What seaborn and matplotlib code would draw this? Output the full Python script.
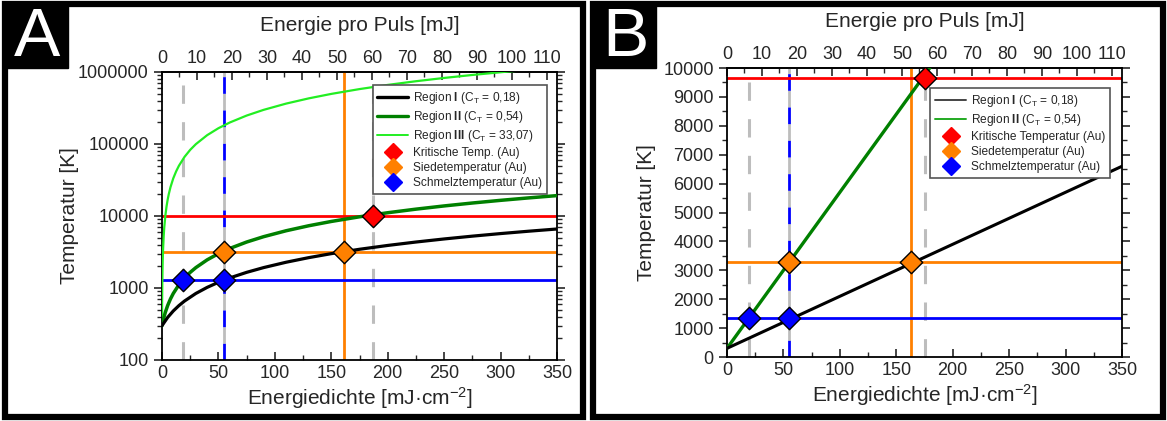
import numpy as np
import pandas as pd
import matplotlib
matplotlib.use("Agg")
import matplotlib.pyplot as plt
import seaborn as sns
from matplotlib.lines import Line2D
from matplotlib.patches import Rectangle
from matplotlib.ticker import MultipleLocator, LogLocator, NullFormatter, FixedLocator

sns.set_style("ticks")
plt.rcParams['font.family'] = ['Liberation Sans', 'DejaVu Sans']
plt.rcParams['mathtext.fontset'] = 'custom'
plt.rcParams['mathtext.rm'] = 'Liberation Sans'
plt.rcParams['mathtext.bf'] = 'Liberation Sans:bold'
plt.rcParams['mathtext.it'] = 'Liberation Sans:italic'

# ---- data ----
E_I = [0, 5, 10, 15, 20, 30, 40, 50, 60, 75, 90, 110, 130, 150, 175, 200, 225, 250, 275, 300, 325, 350]
T_I = [300, 390, 480, 570, 660, 840, 1020, 1200, 1380, 1650, 1920, 2280, 2640, 3000, 3450, 3900,
       4350, 4800, 5250, 5700, 6150, 6600]

E_II = [0, 1, 2, 3, 5, 7.5, 10, 15, 20, 25, 30, 40, 50, 60, 75, 90, 110, 130, 150, 175, 200, 225,
        250, 275, 300, 325, 350]
T_II = [300, 354, 408, 462, 570, 705, 840, 1110, 1380, 1650, 1920, 2460, 3000, 3540, 4350, 5160,
        6240, 7320, 8400, 9750, 11100, 12450, 13800, 15150, 16500, 17850, 19200]

E_III = [0, 0.1, 0.25, 0.5, 0.75, 1, 1.5, 2, 3, 4, 5, 6, 7.5, 10, 12.5, 15, 20, 25, 30, 40, 50, 60,
         75, 90, 110, 130, 150, 175, 200, 225, 250, 275, 300, 325, 350]
T_III = [300, 630, 1130, 1950, 2780, 3610, 5260, 6910, 10200, 13500, 16800, 20100, 25100, 33400,
         41600, 49900, 66400, 83000, 99500, 132600, 165700, 198700, 248300, 297900, 364100, 430200,
         496400, 579000, 661700, 744400, 827000, 909700, 992400, 1075000, 1157800]

# panel A reference levels / markers
A_T_crit, A_T_boil, A_T_melt = 10000, 3200, 1300
A_gray_x = [19, 187]
A_blue_x = 55
A_orange_x = 161
A_melt_pts = ([19, 55], [1300, 1300])
A_boil_pts = ([55, 161], [3200, 3200])
A_crit_pts = ([187], [10000])

# panel B reference levels / markers
B_T_crit, B_T_boil, B_T_melt = 9650, 3280, 1340
B_gray_x = [19.5, 175]
B_blue_x = 55
B_orange_x = 163
B_melt_pts = ([19.5, 55], [1340, 1340])
B_boil_pts = ([55, 163], [3280, 3280])
B_crit_pts = ([175], [9650])

mj_per_density = 1 / 3.1

RED = '#ff0000'
ORANGE = '#ff8000'
BLUE = '#0000ff'
DKGREEN = '#008000'
LTGREEN = '#22ee22'
GRAY = '#bdbdbd'

fig = plt.figure(figsize=(11.67, 4.21), dpi=100)

# panel frames and letter boxes
for (x0, w) in [(5 / 1167, 578 / 1167), (593 / 1167, 570 / 1167)]:
    fig.patches.append(Rectangle((x0, 4 / 421), w, 413 / 421, transform=fig.transFigure,
                                 facecolor='white', edgecolor='black', linewidth=4.5, zorder=-2))
for (x0, letter) in [(5 / 1167, 'A'), (593 / 1167, 'B')]:
    fig.patches.append(Rectangle((x0, 1 - 68 / 421), 63 / 1167, 64 / 421, transform=fig.transFigure,
                                 facecolor='black', edgecolor='black', zorder=-1))
    fig.text(x0 + 32 / 1167, 1 - 38 / 421, letter, color='white', fontsize=50,
             ha='center', va='center', zorder=2)


def style_axis(ax, ylabelpad):
    for s in ax.spines.values():
        s.set_linewidth(1.3)
        s.set_visible(True)
        s.set_color('black')
    ax.set_xlim(0, 350)
    ax.xaxis.set_major_locator(MultipleLocator(50))
    ax.xaxis.set_minor_locator(MultipleLocator(25))
    ax.tick_params(axis='x', which='both', direction='in', top=False, labelsize=13)
    ax.tick_params(axis='x', which='major', length=6, width=1.2)
    ax.tick_params(axis='x', which='minor', length=3.5, width=1.0)
    ax.tick_params(axis='y', which='both', direction='out', right=True, labelsize=13)
    ax.tick_params(axis='y', which='major', length=6, width=1.2)
    ax.tick_params(axis='y', which='minor', length=3.5, width=1.0)
    ax.set_xlabel('Energiedichte [mJ·cm$^{-2}$]', fontsize=15, labelpad=2)
    ax.set_ylabel('Temperatur [K]', fontsize=15, labelpad=ylabelpad)
    sec = ax.secondary_xaxis('top', functions=(lambda x: x * mj_per_density, lambda x: x / mj_per_density))
    sec.set_xticks(np.arange(0, 111, 10))
    sec.xaxis.set_minor_locator(MultipleLocator(5))
    sec.tick_params(which='both', direction='in', labelsize=13)
    sec.tick_params(which='major', length=6, width=1.2)
    sec.tick_params(which='minor', length=3.5, width=1.0)
    sec.spines['top'].set_linewidth(1.3)
    sec.set_xlabel('Energie pro Puls [mJ]', fontsize=15, labelpad=14)
    return sec


def draw_refs(ax, gray_x, blue_x, orange_x, tc, tb, tm):
    for gx in gray_x:
        ax.axvline(gx, color=GRAY, lw=2.2, dashes=(6, 6), zorder=1)
    ax.axvline(blue_x, color=BLUE, lw=2.0, ls='--', dashes=(6, 6), gapcolor=GRAY,
               dash_capstyle='butt', zorder=1.5)
    ax.axvline(orange_x, color=ORANGE, lw=2.0, zorder=1.6)
    ax.axhline(tc, color=RED, lw=2.0, zorder=1.7)
    ax.axhline(tb, color=ORANGE, lw=2.0, zorder=1.7)
    ax.axhline(tm, color=BLUE, lw=2.0, zorder=1.7)


def draw_markers(ax, melt, boil, crit):
    for pts, c in [(melt, BLUE), (boil, ORANGE), (crit, RED)]:
        d = pd.DataFrame({'x': pts[0], 'y': pts[1]})
        sns.scatterplot(data=d, x='x', y='y', ax=ax, marker='D', s=130, color=c,
                        edgecolor='black', linewidth=1.0, zorder=5, legend=False)


# ---------------- Panel A ----------------
axA = fig.add_axes([162 / 1167, 1 - 360 / 421, 395 / 1167, 288 / 421])
axA.set_yscale('log')
draw_refs(axA, A_gray_x, A_blue_x, A_orange_x, A_T_crit, A_T_boil, A_T_melt)
sns.lineplot(x=E_III, y=T_III, ax=axA, color=LTGREEN, lw=1.6, zorder=3, estimator=None, sort=False)
sns.lineplot(x=E_II, y=T_II, ax=axA, color=DKGREEN, lw=2.5, zorder=3, estimator=None, sort=False)
sns.lineplot(x=E_I, y=T_I, ax=axA, color='black', lw=2.3, zorder=3, estimator=None, sort=False)
draw_markers(axA, A_melt_pts, A_boil_pts, A_crit_pts)
axA.set_ylim(100, 1e6)
axA.yaxis.set_major_locator(FixedLocator([100, 1000, 10000, 100000, 1000000]))
axA.yaxis.set_major_formatter(matplotlib.ticker.FuncFormatter(lambda v, p: f'{int(round(v))}'))
axA.yaxis.set_minor_locator(LogLocator(base=10, subs=np.arange(2, 10)))
axA.yaxis.set_minor_formatter(NullFormatter())
style_axis(axA, ylabelpad=-1)

handlesA = [
    Line2D([], [], color='black', lw=2.4),
    Line2D([], [], color=DKGREEN, lw=2.4),
    Line2D([], [], color=LTGREEN, lw=1.4),
    Line2D([], [], color=RED, marker='D', ls='none', ms=9),
    Line2D([], [], color=ORANGE, marker='D', ls='none', ms=9),
    Line2D([], [], color=BLUE, marker='D', ls='none', ms=9),
]
labelsA = [r'Region $\mathbf{I}$ (C$_\mathrm{T}$ = 0,18)',
           r'Region $\mathbf{II}$ (C$_\mathrm{T}$ = 0,54)',
           r'Region $\mathbf{III}$ (C$_\mathrm{T}$ = 33,07)',
           'Kritische Temp. (Au)', 'Siedetemperatur (Au)', 'Schmelztemperatur (Au)']
legA = axA.legend(handlesA, labelsA, loc='upper right', bbox_to_anchor=(0.99, 0.975),
                  fontsize=8.6, frameon=True, fancybox=False, edgecolor='#555555',
                  handlelength=2.6, handletextpad=0.4, labelspacing=0.25, borderpad=0.4,
                  framealpha=1)
legA.get_frame().set_linewidth(1.2)
legA.set_zorder(10)

# ---------------- Panel B ----------------
axB = fig.add_axes([727 / 1167, 1 - 357 / 421, 395 / 1167, 289 / 421])
draw_refs(axB, B_gray_x, B_blue_x, B_orange_x, B_T_crit, B_T_boil, B_T_melt)
sns.lineplot(x=E_II, y=T_II, ax=axB, color=DKGREEN, lw=2.4, zorder=3, estimator=None, sort=False)
sns.lineplot(x=E_I, y=T_I, ax=axB, color='black', lw=2.2, zorder=3, estimator=None, sort=False)
draw_markers(axB, B_melt_pts, B_boil_pts, B_crit_pts)
axB.set_ylim(0, 10000)
axB.yaxis.set_major_locator(MultipleLocator(1000))
axB.yaxis.set_minor_locator(MultipleLocator(500))
style_axis(axB, ylabelpad=5)

handlesB = [
    Line2D([], [], color='#444444', lw=1.4),
    Line2D([], [], color='#22aa22', lw=1.4),
    Line2D([], [], color=RED, marker='D', ls='none', ms=9),
    Line2D([], [], color=ORANGE, marker='D', ls='none', ms=9),
    Line2D([], [], color=BLUE, marker='D', ls='none', ms=9),
]
labelsB = [r'Region $\mathbf{I}$ (C$_\mathrm{T}$ = 0,18)',
           r'Region $\mathbf{II}$ (C$_\mathrm{T}$ = 0,54)',
           'Kritische Temperatur (Au)', 'Siedetemperatur (Au)', 'Schmelztemperatur (Au)']
legB = axB.legend(handlesB, labelsB, loc='upper right', bbox_to_anchor=(0.985, 0.95),
                  fontsize=8.6, frameon=True, fancybox=False, edgecolor='#555555',
                  handlelength=2.6, handletextpad=0.4, labelspacing=0.25, borderpad=0.4,
                  framealpha=1)
legB.get_frame().set_linewidth(1.2)
legB.set_zorder(10)

fig.savefig('out.png', dpi=100)
